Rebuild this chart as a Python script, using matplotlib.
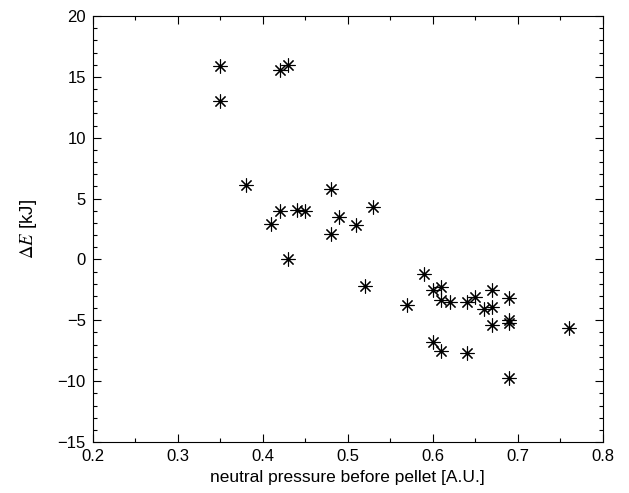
import matplotlib
matplotlib.use("Agg")
from matplotlib import pyplot as plt
from matplotlib.ticker import MultipleLocator

pressure = [0.35, 0.35, 0.42, 0.43, 0.38, 0.42, 0.44, 0.45, 0.48, 0.49,
            0.41, 0.48, 0.51, 0.53, 0.43, 0.52, 0.57, 0.59, 0.60, 0.61,
            0.61, 0.62, 0.64, 0.65, 0.66, 0.67, 0.67, 0.67, 0.69, 0.69,
            0.69, 0.60, 0.61, 0.64, 0.69, 0.76]
delta_e = [15.9, 13.0, 15.6, 16.0, 6.1, 4.0, 4.1, 4.0, 5.8, 3.5,
           2.9, 2.1, 2.8, 4.3, 0.0, -2.2, -3.7, -1.2, -2.5, -2.3,
           -3.3, -3.5, -3.5, -3.1, -4.1, -3.9, -2.5, -5.4, -3.2, -5.0,
           -5.2, -6.8, -7.5, -7.7, -9.7, -5.6]

plt.rcParams["font.family"] = ["Liberation Sans", "DejaVu Sans"]
plt.rcParams["mathtext.fontset"] = "stix"

fig = plt.figure(figsize=(6.29, 4.93), dpi=100)
ax = fig.add_axes([0.1474, 0.1034, 0.8108, 0.864])

ax.plot(pressure, delta_e, linestyle="none", marker=(8, 2, 0),
        markersize=10, markeredgewidth=0.8, color="black")
# small filled centre like the reference stars
ax.plot(pressure, delta_e, linestyle="none", marker="o",
        markersize=2.2, markeredgewidth=0, color="black")

ax.set_xlim(0.2, 0.8)
ax.set_ylim(-15, 20)
ax.xaxis.set_major_locator(MultipleLocator(0.1))
ax.xaxis.set_minor_locator(MultipleLocator(0.05))
ax.yaxis.set_major_locator(MultipleLocator(5))
ax.yaxis.set_minor_locator(MultipleLocator(1))
ax.tick_params(which="both", direction="in", top=True, right=True,
               labelsize=12, width=0.8)
ax.tick_params(which="major", length=6, pad=5)
ax.tick_params(which="minor", length=3)
for s in ax.spines.values():
    s.set_linewidth(0.8)

ax.set_xlabel("neutral pressure before pellet [A.U.]", fontsize=12.5, labelpad=4)
ax.set_ylabel(r"$\mathit{\Delta E}$ [kJ]", fontsize=13.5, labelpad=13)

fig.savefig("out.png", dpi=100)
